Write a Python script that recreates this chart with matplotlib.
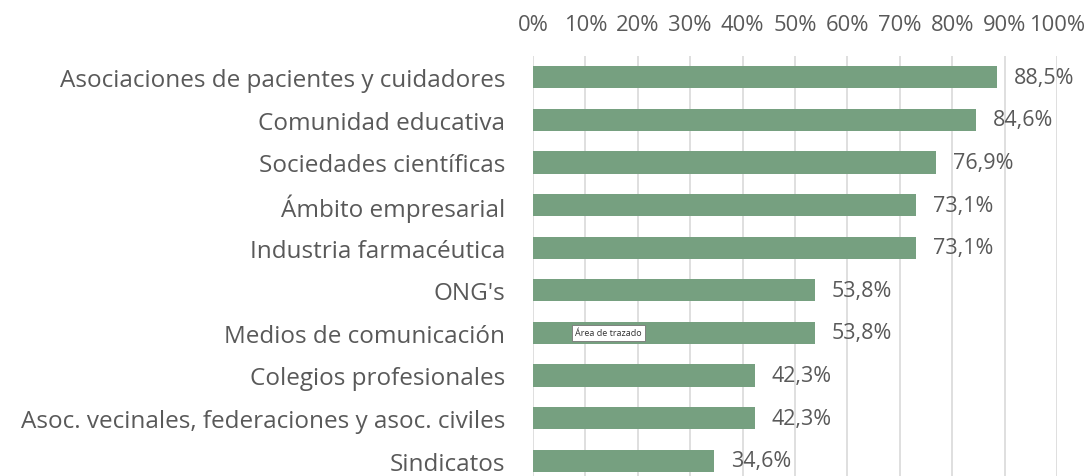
import matplotlib.pyplot as plt
from matplotlib.ticker import FixedLocator

categories = [
    "Asociaciones de pacientes y cuidadores",
    "Comunidad educativa",
    "Sociedades científicas",
    "Ámbito empresarial",
    "Industria farmacéutica",
    "ONG's",
    "Medios de comunicación",
    "Colegios profesionales",
    "Asoc. vecinales, federaciones y asoc. civiles",
    "Sindicatos",
]
values = [88.5, 84.6, 76.9, 73.1, 73.1, 53.8, 53.8, 42.3, 42.3, 34.6]
ticks = [0, 10, 20, 30, 40, 50, 60, 70, 80, 90, 100]
tick_labels = [f"{t}%" for t in ticks]

plt.rcParams['font.family'] = ['Open Sans', 'DejaVu Sans']
text_color = "#595959"
bar_color = "#76a080"

fig = plt.figure(figsize=(10.89, 4.77), dpi=100)
ax = fig.add_axes([533 / 1089, 0.0, 524 / 1089, 420 / 477])

pos = list(range(len(categories)))
ax.barh(pos, values, height=0.52, color=bar_color, zorder=3)
for p, v in zip(pos, values):
    ax.text(v + 3.2, p, f"{v:.1f}%".replace(".", ","), va="center", ha="left",
            fontsize=15.5, color=text_color, zorder=4)

ax.set_xlim(0, 100)
ax.set_ylim(9.36, -0.5)
ax.xaxis.set_major_locator(FixedLocator(ticks))
ax.set_xticklabels(tick_labels)
ax.xaxis.tick_top()
ax.tick_params(axis="x", length=0, pad=15, labelsize=15.8, labelcolor=text_color)
ax.set_yticks(pos)
ax.set_yticklabels(categories)
ax.tick_params(axis="y", length=0, pad=20, labelsize=17.5, labelcolor=text_color)
ax.grid(axis="x", color="#d9d9d9", linewidth=1.2, zorder=0)
for s in ax.spines.values():
    s.set_visible(False)

# tooltip left in the screenshot
ax.text(8.0, 6.0, "Área de trazado", fontsize=6.5, color="#333333", va="center", ha="left",
        zorder=5, bbox=dict(boxstyle="square,pad=0.35", facecolor="white", edgecolor="#767676",
                            linewidth=0.6))

fig.savefig("out.png", dpi=100)
